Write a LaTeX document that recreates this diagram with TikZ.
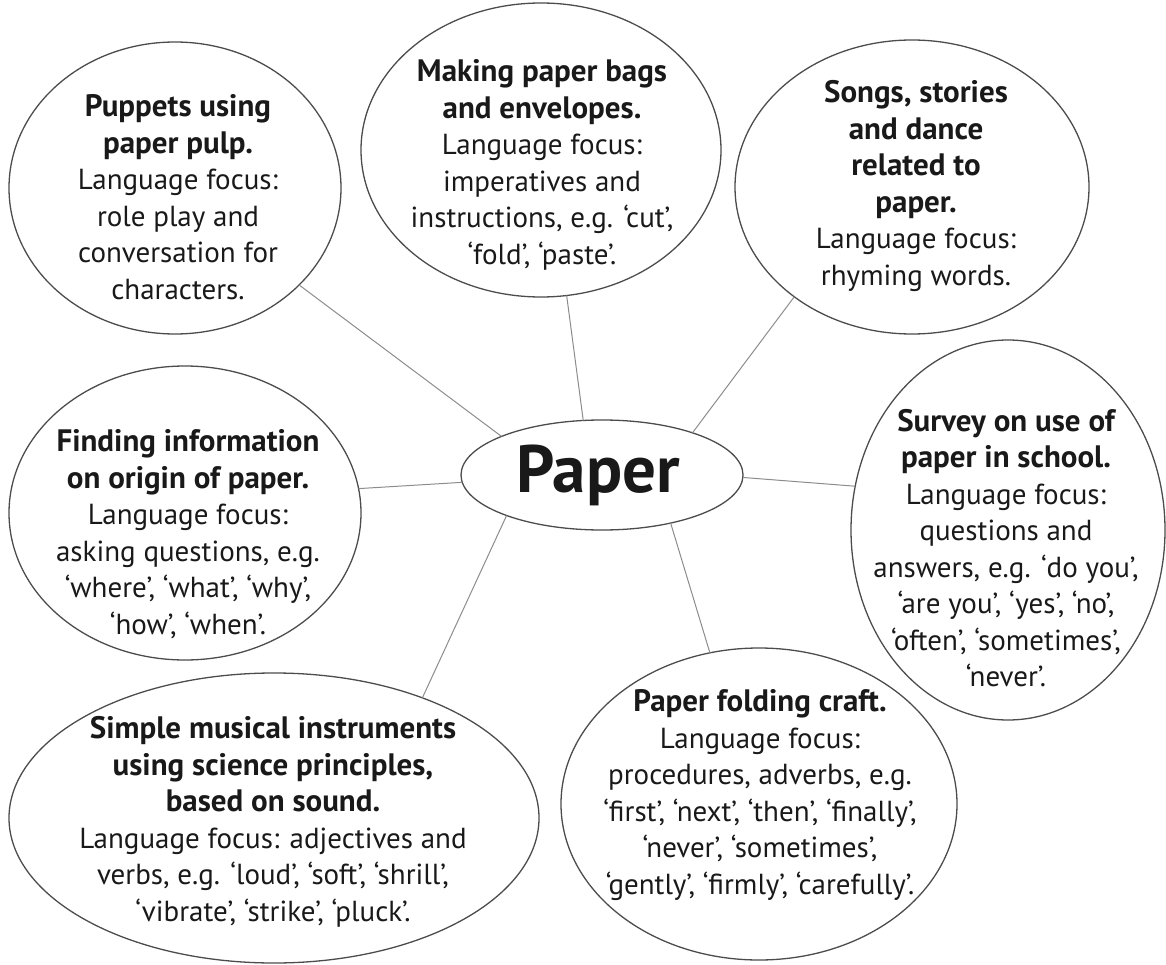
\documentclass[tikz,border=0pt]{standalone}
\usepackage{fontspec}
\setmainfont{PT Sans}
\usetikzlibrary{shapes.geometric}
\newcommand{\hd}[1]{{\fontsize{31}{36.5}\selectfont\bfseries #1}}
\begin{document}
\begin{tikzpicture}[x=1pt,y=-1pt,
  bub/.style={draw=black!70, line width=1.3pt, ellipse, inner sep=0pt, outer sep=0pt},
  txt/.style={align=center, inner sep=0pt, text=black!90, font=\fontsize{29}{36.5}\selectfont},
  link/.style={draw=black!45, line width=1pt}]
\useasboundingbox (0,0) rectangle (1166,965);
% bubbles
\node[bub, minimum width=332pt, minimum height=292pt] (pup) at (175,188) {};
\node[bub, minimum width=360pt, minimum height=294pt] (bag) at (541,150) {};
\node[bub, minimum width=354pt, minimum height=294pt] (song) at (912,187) {};
\node[bub, minimum width=352pt, minimum height=294pt] (find) at (185,513) {};
\node[bub, minimum width=282pt, minimum height=110pt] (paper) at (602,475) {};
\node[bub, minimum width=314pt, minimum height=380pt] (surv) at (1008,530) {};
\node[bub, minimum width=396pt, minimum height=312pt] (fold) at (759,804) {};
\node[bub, minimum width=530pt, minimum height=290pt] (simp) at (274,818) {};
% connectors
\draw[link] (pup.-38.4) -- (paper.159.7);
\draw[link] (bag.-80.8) -- (paper.109);
\draw[link] (song.-137.4) -- (paper.25.8);
\draw[link] (paper.-1) -- (surv.164);
\draw[link] (paper.-35.2) -- (fold.108.7);
\draw[link] (paper.-157.3) -- (simp.39.7);
\draw[link] (find.8) -- (paper.183);
% texts
\node[txt] (puptxt) at (178,197) {\hd{Puppets using}\\\hd{paper pulp.}\\Language focus:\\role play and\\conversation for\\characters.};
\node[txt] (bagtxt) at (542,165) {\hd{Making paper bags}\\\hd{and envelopes.}\\Language focus:\\imperatives and\\instructions, e.g. ‘cut’,\\‘fold’, ‘paste’.};
\node[txt] (songtxt) at (916,186) {\hd{Songs, stories}\\\hd{and dance}\\\hd{related to}\\\hd{paper.}\\Language focus:\\rhyming words.};
\node[txt] (findtxt) at (188,534) {\hd{Finding information}\\\hd{on origin of paper.}\\Language focus:\\asking questions, e.g.\\‘where’, ‘what’, ‘why’,\\‘how’, ‘when’.};
\node[txt, font=\fontsize{67}{70}\selectfont\bfseries, anchor=base] (papertxt) at (598,492) {Paper};
\node[txt] (survtxt) at (1006,548) {\hd{Survey on use of}\\\hd{paper in school.}\\Language focus:\\questions and\\answers, e.g. ‘do you’,\\‘are you’, ‘yes’, ‘no’,\\‘often’, ‘sometimes’,\\‘never’.};
\node[txt] (foldtxt) at (760,795) {\hd{Paper folding craft.}\\Language focus:\\procedures, adverbs, e.g.\\‘first’, ‘next’, ‘then’, ‘finally’,\\‘never’, ‘sometimes’,\\‘gently’, ‘firmly’, ‘carefully’.};
\node[txt] (simptxt) at (273,822) {\hd{Simple musical instruments}\\\hd{using science principles,}\\\hd{based on sound.}\\Language focus: adjectives and\\verbs, e.g. ‘loud’, ‘soft’, ‘shrill’,\\‘vibrate’, ‘strike’, ‘pluck’.};
\end{tikzpicture}
\end{document}
